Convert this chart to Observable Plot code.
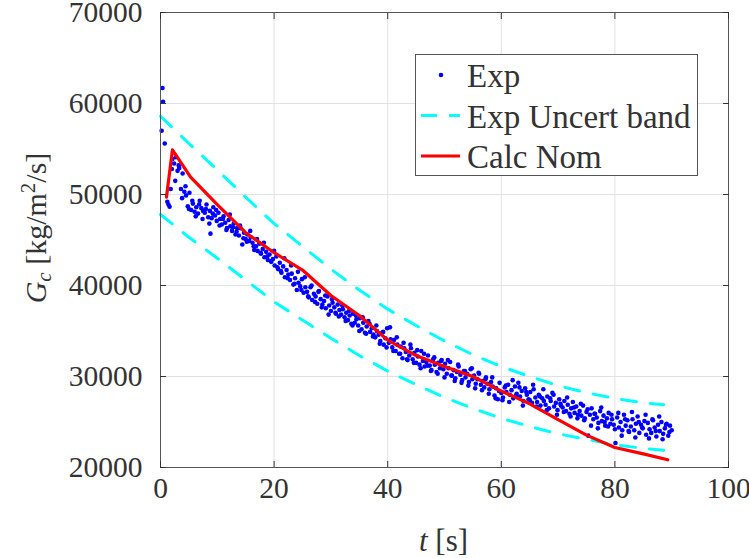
<!DOCTYPE html>
<html>
<head>
<meta charset="utf-8">
<script src="https://cdn.jsdelivr.net/npm/d3@7"></script>
<script src="https://cdn.jsdelivr.net/npm/@observablehq/plot@0.6"></script>
<style>
  html, body { margin: 0; padding: 0; background: #fff; }
  #chart { position: relative; width: 749px; height: 558px; font-family: "Liberation Serif", "DejaVu Serif", serif; }
  #legend { position: absolute; left: 415px; top: 54px; }
</style>
</head>
<body>
<div id="chart"></div>
<script>
const serifFont = "'Liberation Serif', 'DejaVu Serif', 'Noto Serif', serif";

// Axis ticks
const xTicks = [0, 20, 40, 60, 80, 100];
const yTicks = [20000, 30000, 40000, 50000, 60000, 70000];

// Experimental mass flux: first transient samples, then two interleaved records
const expEarlyT = [0.2, 0.35, 0.45, 0.75, 1.2, 1.4, 1.6, 8.8];
const expEarlyG = [57000, 61700, 60200, 55600, 49200, 48900, 48650, 45700];

// record A: every 0.3 s from t = 1.8 s
const expStartA = 1.8;
const expStepA = 0.3;
const expGA = [
  50600, 53900, 53400, 54100, 52600, 52900, 50600, 52300, 50300, 49900,
  48700, 50200, 48300, 49000, 48100, 48600, 47900, 49300, 48500, 48200,
  48000, 48900, 47500, 48200, 47400, 48600, 47700, 47100, 48000, 47300,
  46700, 47600, 46900, 46300, 47200, 46500, 46000, 46800, 45600, 46300,
  45500, 46300, 44500, 45800, 45100, 45600, 44900, 45300, 44700, 43900,
  44300, 43800, 44600, 43500, 44000, 43100, 43700, 42800, 43400, 42600,
  42900, 42200, 43200, 41800, 42500, 41400, 42100, 40900, 41700, 41200,
  40600, 41300, 40100, 40800, 39500, 40300, 39900, 40700, 39200, 39800,
  39300, 38700, 39800, 38400, 39100, 38800, 38000, 39400, 38500, 37900,
  38300, 37500, 38800, 37800, 37200, 38100, 37600, 36900, 37900, 37300,
  36800, 37400, 36500, 37000, 36200, 36700, 35800, 36900, 35900, 36300,
  35600, 36400, 35200, 35900, 34800, 35500, 36100, 34900, 35300, 34600,
  34300, 35000, 34600, 33900, 34800, 33500, 34200, 35300, 33700, 34100,
  33200, 34000, 32800, 33500, 32500, 33300, 32000, 33100, 32700, 31800,
  32300, 33100, 31900, 32600, 31500, 32200, 31300, 32800, 31700, 31100,
  31600, 32300, 31200, 30700, 31900, 31300, 30500, 31500, 30900, 31800,
  30800, 31400, 30300, 30900, 31600, 30100, 30700, 29800, 30500, 31100,
  30200, 29600, 30600, 29900, 30300, 29400, 30800, 29700, 30100, 29200,
  29700, 30300, 29100, 29500, 28800, 29900, 29200, 28600, 29400, 28900,
  27900, 28700, 27500, 29300, 28200, 27700, 28800, 28300, 29100, 28000,
  28500, 27600, 28900, 28100, 29300, 27800, 28400, 27300, 28700, 28000,
  27500, 28300, 27100, 28600, 27700, 27200, 28000, 26800, 27600, 27300,
  26900, 27800, 26500, 27300, 28200, 26700, 27100, 26300, 27500, 26800,
  26600, 27300, 26200, 26900, 25900, 26500, 27200, 26000, 26700, 25800,
  26200, 25700, 26800, 25400, 26100, 23500, 25800, 26500, 25300, 25900,
  25500, 24900, 26200, 25100, 25700, 24600, 25400, 26000, 24800, 25300,
  24700, 22700, 25500, 24400, 25000, 24100, 25800, 24600, 25200, 23900,
  24500, 25300, 24100, 24800, 25600, 23800, 24700, 24300, 25100, 23600,
  24900, 24200, 23800, 25200, 24400, 23400, 24700, 24000, 25000, 23700,
  24300, 24800, 23500, 24600, 24100
];

// record B: every 0.6 s from t = 2.0 s
const expStartB = 2.0;
const expStepB = 0.6;
const expGB = [
  52800, 51500, 53200, 49600, 50900, 48400, 49300, 47600, 48900, 47300,
  48400, 46800, 47900, 48300, 46600, 47300, 46100, 47800, 46400, 45900,
  46600, 45200, 44800, 46000, 44300, 45100, 43600, 44700, 43200, 42700,
  43800, 42000, 41600, 43000, 40800, 42200, 40200, 41500, 39500, 40900,
  38800, 40000, 38200, 39300, 37600, 38900, 36800, 38500, 37000, 36600,
  37800, 36100, 37200, 35600, 36700, 35000, 36500, 34700, 35800, 34400,
  35600, 33600, 34900, 33200, 35400, 32800, 34300, 32500, 33700, 31900,
  33500, 31500, 32900, 30900, 32500, 31200, 30600, 32100, 30300, 31700,
  29900, 31800, 30100, 29500, 31300, 29300, 30600, 29000, 30900, 28700,
  30400, 28500, 29700, 28100, 29900, 27600, 28400, 27400, 29000, 27200,
  29600, 27900, 28800, 26800, 28300, 27400, 29100, 26700, 27800, 28600,
  26300, 27600, 28000, 25800, 27000, 26100, 27700, 25600, 26600, 25400,
  27000, 25200, 26400, 24600, 25900, 24300, 26600, 25000, 24500, 25800,
  24200, 26000, 23500, 25300, 24000, 26100, 23300, 25000, 24400, 25800,
  23200, 25300, 24000, 25600, 23100, 24700, 23900
];

// Experimental uncertainty band
const bandT = [0, 5, 10, 15, 20, 25, 30, 35, 40, 45, 50, 55, 60, 65, 70, 75, 80, 85, 88.6];
const bandUpper = [58600, 55600, 52700, 49700, 46800, 44300, 41800, 39500, 37400, 35600, 33900, 32400, 31100, 30000, 29000, 28200, 27600, 27100, 26900];
const bandLower = [47800, 45300, 43000, 40600, 38200, 36200, 34200, 32300, 30600, 29100, 27700, 26500, 25400, 24500, 23700, 23100, 22500, 22100, 21900];

// Nominal calculation
const calcT = [1.05, 2.1, 5.3, 10, 15, 20, 25, 30, 35, 40, 45, 50, 55, 60, 65, 70, 75, 80, 85, 89.3];
const calcG = [49700, 54900, 51900, 48900, 45800, 43600, 41700, 38900, 36700, 34000, 32300, 31100, 30000, 28400, 27000, 25250, 23560, 22200, 21500, 20850];

// Tables for the marks
const expData = expEarlyT.map((t, i) => ({t, g: expEarlyG[i]}))
  .concat(expGA.map((g, i) => ({t: expStartA + expStepA * i, g})))
  .concat(expGB.map((g, i) => ({t: expStartB + expStepB * i, g})));
const bandData = bandT.map((t, i) => ({t, upper: bandUpper[i], lower: bandLower[i]}));
const calcData = calcT.map((t, i) => ({t, g: calcG[i]}));

const cyan = "#00ffff", red = "#ff0000", blue = "#0000ff";
const dash = "15,14";

const fmt = d => String(d);
const svg = Plot.plot({
  width: 749,
  height: 558,
  marginLeft: 160,
  marginRight: 21,
  marginTop: 12,
  marginBottom: 91,
  style: {fontFamily: serifFont, fontSize: "29.5px", color: "#333", background: "#fff"},
  x: {domain: [0, 100]},
  y: {domain: [20000, 70000]},
  marks: [
    Plot.gridX(xTicks, {stroke: "#e2e2e2", strokeOpacity: 1}),
    Plot.gridY(yTicks, {stroke: "#e2e2e2", strokeOpacity: 1}),
    Plot.dot(expData, {x: "t", y: "g", r: 2.3, fill: blue, stroke: "none"}),
    Plot.line(bandData, {x: "t", y: "upper", stroke: cyan, strokeWidth: 3, strokeDasharray: dash}),
    Plot.line(bandData, {x: "t", y: "lower", stroke: cyan, strokeWidth: 3, strokeDasharray: dash}),
    Plot.line(calcData, {x: "t", y: "g", stroke: red, strokeWidth: 3.2}),
    Plot.frame({stroke: "#555"}),
    Plot.axisX(xTicks, {anchor: "bottom", tickSize: -6, tickPadding: 16, tickFormat: fmt, label: null}),
    Plot.axisX(xTicks, {anchor: "top", tickSize: -6, tickFormat: () => "", label: null}),
    Plot.axisY(yTicks, {anchor: "left", tickSize: -6, tickPadding: 24, tickFormat: fmt, label: null}),
    Plot.axisY(yTicks, {anchor: "right", tickSize: -6, tickFormat: () => "", label: null})
  ]
});

const root = d3.select(svg);
// x-axis title: t [s]
const xl = root.append("text")
  .attr("x", 443.5).attr("y", 551)
  .attr("text-anchor", "middle")
  .attr("font-family", serifFont)
  .attr("font-size", 31).attr("fill", "#333");
xl.append("tspan").attr("font-style", "italic").text("t");
xl.append("tspan").text(" [s]");

// y-axis title: G_c [kg/m^2/s]
const yl = root.append("text")
  .attr("transform", "translate(46,228) rotate(-90)")
  .attr("text-anchor", "middle")
  .attr("font-family", serifFont)
  .attr("font-size", 30).attr("fill", "#333");
yl.append("tspan").attr("font-style", "italic").text("G");
yl.append("tspan").attr("font-style", "italic").attr("font-size", 21).attr("dy", "5").text("c");
yl.append("tspan").attr("dy", "-5").text(" [kg/m");
yl.append("tspan").attr("font-size", 21).attr("dy", "-11").text("2");
yl.append("tspan").attr("dy", "11").text("/s]");

const chart = document.getElementById("chart");
chart.appendChild(svg);

// Legend box
const legendItems = [
  {label: "Exp", kind: "dot"},
  {label: "Exp Uncert band", kind: "dash"},
  {label: "Calc Nom", kind: "line"}
];
const lg = d3.select(chart).append("svg")
  .attr("id", "legend")
  .attr("width", 284).attr("height", 122);
lg.append("rect").attr("x", 0.5).attr("y", 0.5).attr("width", 282).attr("height", 121)
  .attr("fill", "#fff").attr("stroke", "#555");
legendItems.forEach((d, i) => {
  const cy = 21 + i * 40.5;
  const g = lg.append("g").attr("transform", `translate(0,${cy})`);
  if (d.kind === "dot") {
    g.append("circle").attr("cx", 26).attr("cy", 0).attr("r", 2.3).attr("fill", blue);
  } else {
    g.append("line").attr("x1", 6).attr("x2", 45).attr("y1", 0).attr("y2", 0)
      .attr("stroke", d.kind === "dash" ? cyan : red)
      .attr("stroke-width", 3)
      .attr("stroke-dasharray", d.kind === "dash" ? "16,12" : null);
  }
  g.append("text").attr("x", 52).attr("y", 12)
    .attr("font-size", 33).attr("fill", "#333")
    .attr("font-family", serifFont)
    .text(d.label);
});
</script>
</body>
</html>
